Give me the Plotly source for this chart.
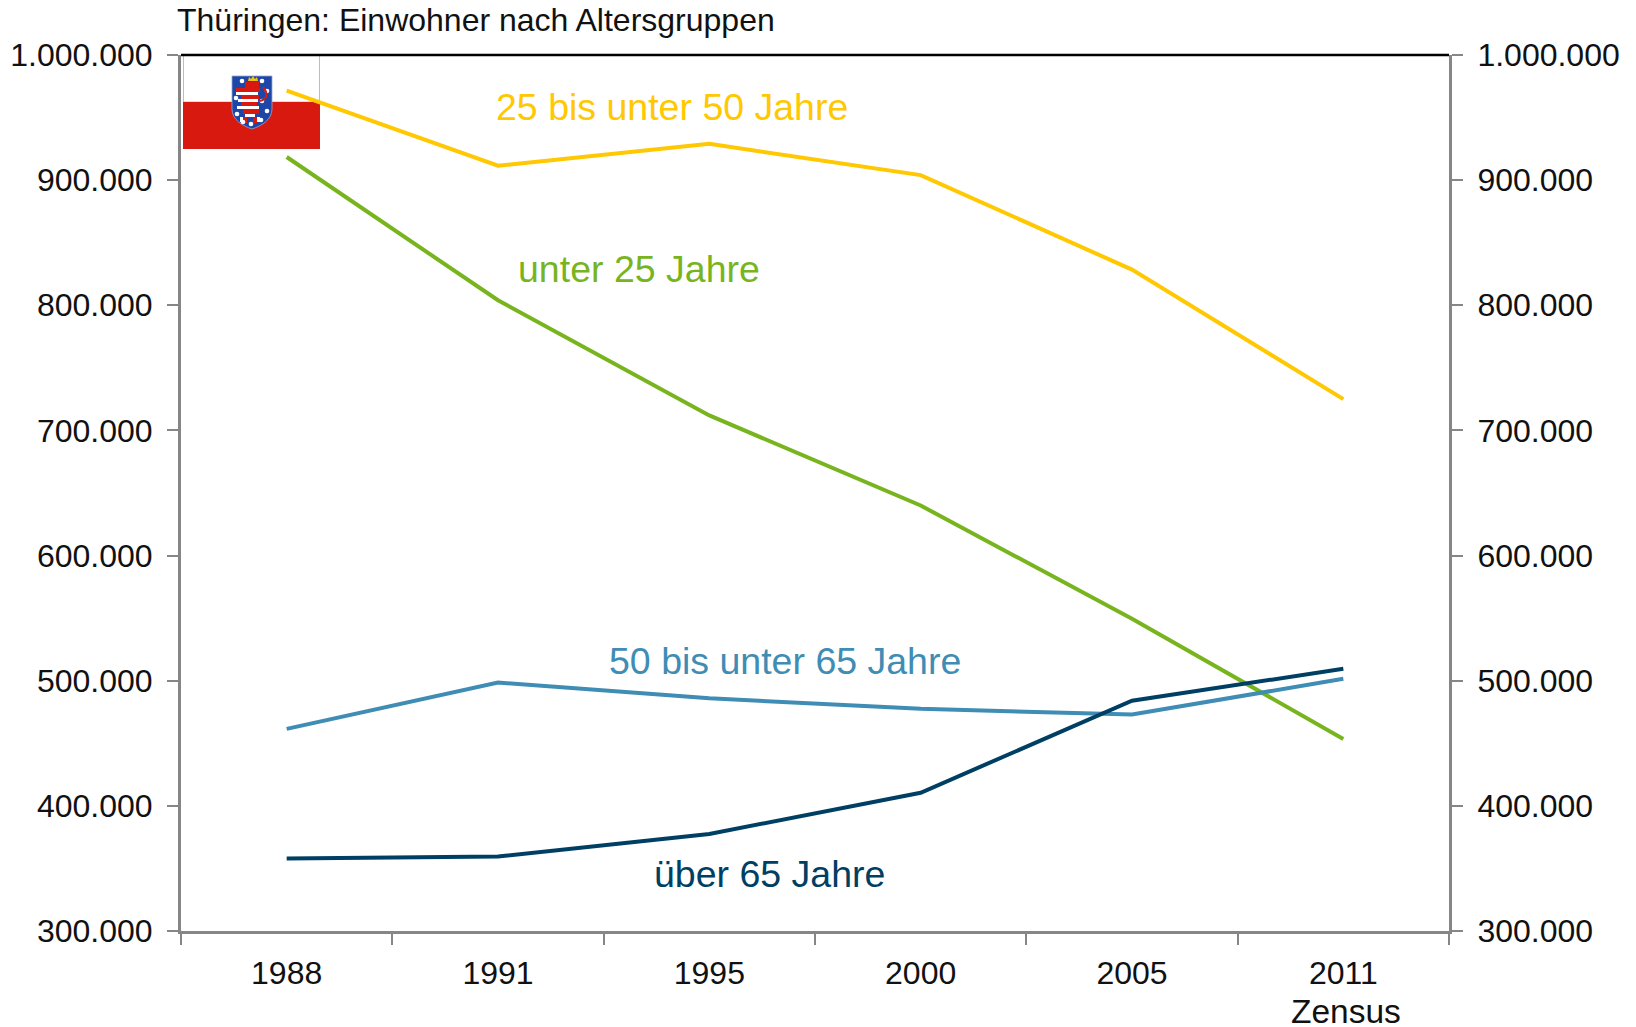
import base64
import plotly.graph_objects as go

years = ["1988", "1991", "1995", "2000", "2005", "2011"]
age_25_50 = [971500, 911500, 929000, 904000, 828500, 725000]
age_u25 = [918500, 804000, 712000, 640000, 549500, 453500]
age_50_65 = [461500, 498500, 486000, 477500, 473000, 501500]
age_o65 = [358000, 359500, 377500, 410500, 484000, 509500]
y_ticks = [300000, 400000, 500000, 600000, 700000, 800000, 900000, 1000000]
y_labels = ["300.000", "400.000", "500.000", "600.000", "700.000", "800.000", "900.000", "1.000.000"]

YELLOW, GREEN, BLUE, NAVY = "#FFC800", "#78B41E", "#3F8CB4", "#003F64"
GREY = "#868686"
FONT = "Liberation Sans, Arial, sans-serif"

dots = "".join(f'<circle cx="{x}" cy="{y}" r="2.3" fill="#fff"/>' for x, y in [
    (59, 26), (79, 26), (84, 36), (53, 43), (79, 46), (84, 56), (54, 59), (68, 69), (78, 65), (60, 67)])
stripes = "".join(f'<rect x="{x}" y="{y}" width="{w}" height="{h}" fill="{c}"/>' for x, y, w, h, c in [
    (62, 27, 14, 6, "#d7190f"), (53, 33, 24, 4, "#d7190f"), (53, 37, 22, 3, "#fff"), (58, 40, 18, 4, "#d7190f"),
    (55, 44, 20, 3, "#fff"), (58, 47, 16, 4, "#d7190f"), (54, 51, 22, 3, "#fff"), (60, 54, 16, 5, "#d7190f"),
    (62, 59, 10, 3, "#fff"), (57, 62, 4, 5, "#fff"), (73, 62, 4, 5, "#fff"), (60, 62, 4, 6, "#d7190f"), (70, 62, 4, 6, "#d7190f")])
flag_svg = f'''<svg xmlns="http://www.w3.org/2000/svg" width="137" height="94" viewBox="0 0 137 94">
<rect x="0.5" y="0" width="136" height="47" fill="#fff" stroke="#bdbdbd" stroke-width="1"/>
<rect x="0" y="47" width="137" height="47" fill="#d7190f"/>
<path d="M49 21H89V54C89 65 78 71 69 74C60 71 49 65 49 54Z" fill="#1c46a8" stroke="#9aa6c8" stroke-width="0.8"/>
{stripes}{dots}
<path d="M77 46C85 44 85 38 80 32" fill="none" stroke="#d7190f" stroke-width="2"/>
<path d="M65 26l1-4 2 2 2-3 2 3 2-2 1 4z" fill="#f4c20d"/>
</svg>'''
flag_src = "data:image/svg+xml;base64," + base64.b64encode(flag_svg.encode()).decode()

fig = go.Figure()
for values, color in [(age_25_50, YELLOW), (age_u25, GREEN), (age_50_65, BLUE), (age_o65, NAVY)]:
    fig.add_trace(go.Scatter(x=years, y=values, mode="lines", line=dict(color=color, width=4), hoverinfo="skip"))
fig.add_trace(go.Scatter(x=years, y=age_o65, yaxis="y2", mode="lines", opacity=0, line=dict(width=0), hoverinfo="skip"))

for text, x, y, color in [
    ("25 bis unter 50 Jahre", 1.825, 958500, YELLOW),
    ("unter 25 Jahre", 1.665, 829000, GREEN),
    ("50 bis unter 65 Jahre", 2.36, 516000, BLUE),
    ("über 65 Jahre", 2.285, 345500, NAVY),
]:
    fig.add_annotation(x=x, y=y, text=text, showarrow=False, font=dict(family=FONT, size=37.5, color=color))

fig.add_annotation(x=5, y=0, yref="paper", yshift=-80, xshift=3, yanchor="middle", text="Zensus", showarrow=False,
                   font=dict(family=FONT, size=33.5, color="#111111"))

axis_y = dict(range=[300000, 1000000], tickmode="array", tickvals=y_ticks, ticktext=y_labels, automargin=False,
              showgrid=False, zeroline=False, showline=True, linecolor=GREY, linewidth=3,
              ticks="outside", ticklen=11, tickwidth=2, tickcolor=GREY, ticklabelstandoff=8,
              tickfont=dict(family=FONT, size=32, color="#111111"))

fig.update_layout(
    width=1636, height=1027, autosize=False,
    margin=dict(l=181, r=187, t=55, b=96, pad=0),
    paper_bgcolor="white", plot_bgcolor="rgba(0,0,0,0)", showlegend=False,
    title=dict(text="Thüringen: Einwohner nach Altersgruppen", x=177/1636, xanchor="left", y=1-20/1027, yanchor="middle",
               font=dict(family=FONT, size=32, color="#111111")),
    xaxis=dict(type="category", range=[-0.5, 5.5], tickson="boundaries", showgrid=False, zeroline=False, automargin=False,
               showline=True, linecolor=GREY, linewidth=3, ticks="outside", ticklen=11, tickwidth=2, tickcolor=GREY,
               tickangle=0, ticklabelstandoff=12, tickfont=dict(family=FONT, size=32, color="#111111")),
    yaxis=dict(**axis_y),
    yaxis2=dict(**axis_y, overlaying="y", side="right"),
    shapes=[dict(type="line", xref="paper", yref="paper", x0=0, x1=1, y0=1, y1=1, line=dict(color="#000000", width=2.5))],
    images=[dict(source=flag_src, xref="paper", yref="paper", x=2/1268, y=1, sizex=137/1268, sizey=94/876,
                 xanchor="left", yanchor="top", sizing="stretch", layer="below")],
)

fig.write_html("out.html", config=dict(displayModeBar=False),
               post_script="document.body.style.margin='0';document.body.style.overflow='hidden';")
